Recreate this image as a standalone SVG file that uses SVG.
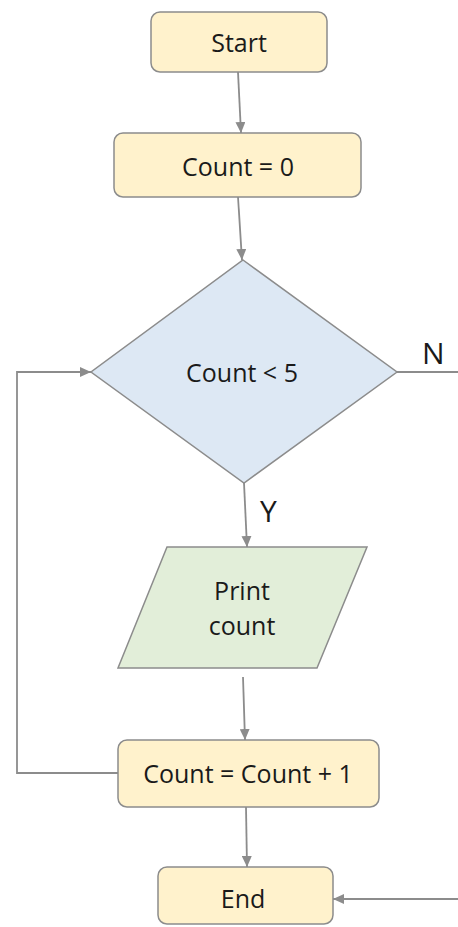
<svg xmlns="http://www.w3.org/2000/svg" width="458" height="927" viewBox="0 0 458 927">
<defs>
<marker id="ah" markerWidth="11" markerHeight="10" refX="11" refY="5" orient="auto" markerUnits="userSpaceOnUse">
<path d="M0,0 L11,5 L0,10 Z" fill="#8c8c8c"/>
</marker>
<style>
.term{fill:#fff2cc;stroke:#8c8c8c;stroke-width:1.5}
.dec{fill:#dde8f4;stroke:#8c8c8c;stroke-width:1.5}
.io{fill:#e2eed9;stroke:#8c8c8c;stroke-width:1.5}
.lbl{font-family:"Open Sans","Liberation Sans",sans-serif;font-size:25px;fill:#1a1a1a;text-anchor:middle}
.yn{font-family:"Open Sans","Liberation Sans",sans-serif;font-size:30px;fill:#1a1a1a}
.conn{fill:none;stroke:#8c8c8c;stroke-width:1.8}
</style>
</defs>
<rect width="458" height="927" fill="#ffffff"/>
<g id="connectors">
<line class="conn" x1="238" y1="72" x2="241" y2="133" marker-end="url(#ah)"/>
<line class="conn" x1="238" y1="197" x2="242" y2="260" marker-end="url(#ah)"/>
<line class="conn" x1="244" y1="483" x2="247" y2="547" marker-end="url(#ah)"/>
<line class="conn" x1="243" y1="677" x2="245" y2="740" marker-end="url(#ah)"/>
<line class="conn" x1="246" y1="807" x2="247" y2="867" marker-end="url(#ah)"/>
<polyline class="conn" points="118,773 17,773 17,372 91,372" marker-end="url(#ah)"/>
<line class="conn" x1="397" y1="372" x2="458" y2="372"/>
<line class="conn" x1="458" y1="899" x2="333" y2="899" marker-end="url(#ah)"/>
<text class="yn" x="422" y="364">N</text>
<text class="yn" x="260" y="522">Y</text>
</g>
<g id="start">
<rect class="term" x="151" y="12" width="176" height="60" rx="9"/>
<text class="lbl" x="239" y="52">Start</text>
</g>
<g id="init">
<rect class="term" x="114" y="133" width="247" height="64" rx="9"/>
<text class="lbl" x="238" y="176">Count = 0</text>
</g>
<g id="decision">
<polygon class="dec" points="243,260 397,372 244,483 91,372"/>
<text class="lbl" x="242" y="382">Count &lt; 5</text>
</g>
<g id="print">
<polygon class="io" points="167,547 367,547 317,668 118,668"/>
<text class="lbl" x="242" y="600">Print</text>
<text class="lbl" x="242" y="635">count</text>
</g>
<g id="increment">
<rect class="term" x="118" y="740" width="261" height="67" rx="9"/>
<text class="lbl" x="248" y="783">Count = Count + 1</text>
</g>
<g id="end">
<rect class="term" x="158" y="867" width="175" height="57" rx="9"/>
<text class="lbl" x="243" y="908">End</text>
</g>
</svg>
